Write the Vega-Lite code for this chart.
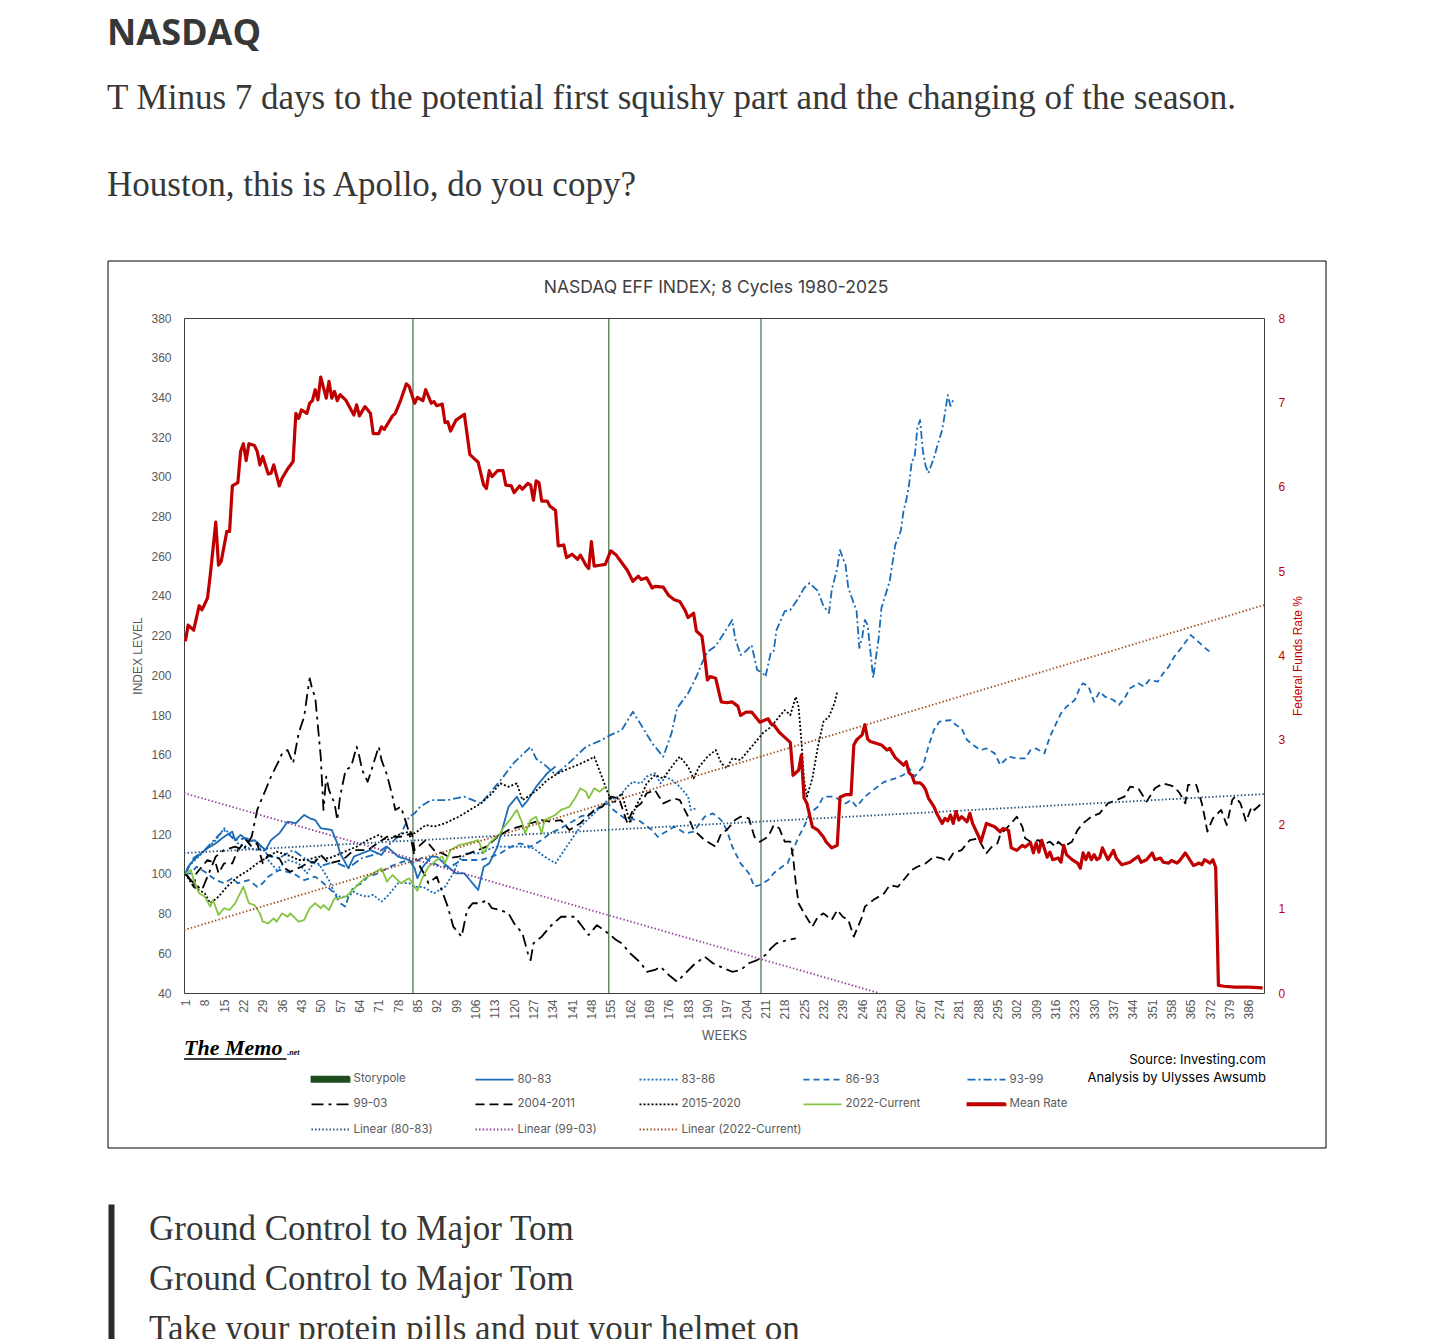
{
  "$schema": "https://vega.github.io/schema/vega-lite/v6.json",
  "padding": {"left": 107, "top": 15, "right": 20, "bottom": 0},
  "background": "white",
  "config": {"view": {"stroke": "#404040"}, "font": "Liberation Sans", "axis": {"labelOverlap": false}},
  "title": {
    "text": "NASDAQ",
    "subtitle": ["T Minus 7 days to the potential first squishy part and the changing of the season.", "Houston, this is Apollo, do you copy?"],
    "anchor": "start", "font": "Open Sans", "fontSize": 36, "fontWeight": "bold", "color": "#363737",
    "subtitleFont": "Liberation Serif", "subtitleFontSize": 35, "subtitleColor": "#363737",
    "subtitleLineHeight": 87, "subtitlePadding": 28, "offset": 56.5
  },
  "spacing": 55,
  "datasets": {
    "series": [
      {"series":"80-83","week":1,"value":100},{"series":"80-83","week":2,"value":103.6},{"series":"80-83","week":4,"value":107},{"series":"80-83","week":8,"value":112},{"series":"80-83","week":12,"value":115.4},{"series":"80-83","week":15,"value":118.7},{"series":"80-83","week":18,"value":121.3},{"series":"80-83","week":19,"value":117},{"series":"80-83","week":21,"value":119.6},{"series":"80-83","week":24,"value":116.2},{"series":"80-83","week":26,"value":117},{"series":"80-83","week":30,"value":112},{"series":"80-83","week":32,"value":117},{"series":"80-83","week":35,"value":120.4},{"series":"80-83","week":38,"value":126.3},{"series":"80-83","week":41,"value":125.5},{"series":"80-83","week":44,"value":129.7},{"series":"80-83","week":46,"value":128},{"series":"80-83","week":48,"value":127.1},{"series":"80-83","week":50,"value":123},{"series":"80-83","week":54,"value":122.1},{"series":"80-83","week":56,"value":115.4},{"series":"80-83","week":57,"value":110.4},{"series":"80-83","week":60,"value":102.8},{"series":"80-83","week":62,"value":108.7},{"series":"80-83","week":65,"value":110.4},{"series":"80-83","week":68,"value":112},{"series":"80-83","week":72,"value":109.5},{"series":"80-83","week":74,"value":113.7},{"series":"80-83","week":78,"value":108.7},{"series":"80-83","week":82,"value":107},{"series":"80-83","week":84,"value":102.8},{"series":"80-83","week":85,"value":97.8},{"series":"80-83","week":87,"value":103.6},{"series":"80-83","week":90,"value":108.7},{"series":"80-83","week":92,"value":108.7},{"series":"80-83","week":96,"value":103.6},{"series":"80-83","week":99,"value":100.3},{"series":"80-83","week":102,"value":100.3},{"series":"80-83","week":104,"value":96.9},{"series":"80-83","week":107,"value":91.9},{"series":"80-83","week":109,"value":103.6},{"series":"80-83","week":111,"value":105.3},{"series":"80-83","week":114,"value":113.7},{"series":"80-83","week":116,"value":123.8},{"series":"80-83","week":118,"value":133.8},{"series":"80-83","week":121,"value":138.9},{"series":"80-83","week":123,"value":133.8},{"series":"80-83","week":125,"value":137.2},{"series":"80-83","week":128,"value":143.9},{"series":"80-83","week":132,"value":150.7},{"series":"80-83","week":135,"value":154.1},

      {"series":"83-86","week":1,"value":100},{"series":"83-86","week":2,"value":103.6},{"series":"83-86","week":7,"value":110.4},{"series":"83-86","week":12,"value":117},{"series":"83-86","week":15,"value":123},{"series":"83-86","week":18,"value":118.7},{"series":"83-86","week":20,"value":115.4},{"series":"83-86","week":24,"value":112.9},{"series":"83-86","week":27,"value":112},{"series":"83-86","week":30,"value":112},{"series":"83-86","week":31,"value":107},{"series":"83-86","week":34,"value":102},{"series":"83-86","week":38,"value":107},{"series":"83-86","week":42,"value":105.3},{"series":"83-86","week":45,"value":100.3},{"series":"83-86","week":48,"value":107},{"series":"83-86","week":50,"value":103.6},{"series":"83-86","week":53,"value":96.9},{"series":"83-86","week":55,"value":90.2},{"series":"83-86","week":57,"value":88.5},{"series":"83-86","week":60,"value":88.5},{"series":"83-86","week":62,"value":91},{"series":"83-86","week":64,"value":89.4},{"series":"83-86","week":67,"value":88.5},{"series":"83-86","week":69,"value":89.4},{"series":"83-86","week":72,"value":86},{"series":"83-86","week":74,"value":88.5},{"series":"83-86","week":78,"value":95.3},{"series":"83-86","week":82,"value":95.3},{"series":"83-86","week":84,"value":93.5},{"series":"83-86","week":87,"value":93.5},{"series":"83-86","week":91,"value":90.2},{"series":"83-86","week":95,"value":93.5},{"series":"83-86","week":98,"value":100.3},{"series":"83-86","week":100,"value":107},{"series":"83-86","week":103,"value":110.4},{"series":"83-86","week":108,"value":110.4},{"series":"83-86","week":113,"value":113.7},{"series":"83-86","week":118,"value":113.7},{"series":"83-86","week":123,"value":113.7},{"series":"83-86","week":127,"value":112.9},{"series":"83-86","week":131,"value":108.7},{"series":"83-86","week":135,"value":105.3},{"series":"83-86","week":139,"value":113.7},{"series":"83-86","week":144,"value":123.8},{"series":"83-86","week":149,"value":130.5},{"series":"83-86","week":154,"value":137.2},{"series":"83-86","week":158,"value":138.9},{"series":"83-86","week":161,"value":143.9},{"series":"83-86","week":163,"value":146.4},{"series":"83-86","week":166,"value":145.6},{"series":"83-86","week":168,"value":149},{"series":"83-86","week":171,"value":150.7},{"series":"83-86","week":173,"value":145.6},{"series":"83-86","week":175,"value":149},{"series":"83-86","week":178,"value":146.4},{"series":"83-86","week":180,"value":143.9},{"series":"83-86","week":183,"value":138.9},{"series":"83-86","week":184,"value":132.2},{"series":"83-86","week":186,"value":133},

      {"series":"86-93","week":1,"value":100},{"series":"86-93","week":3,"value":100.3},{"series":"86-93","week":5,"value":103.6},{"series":"86-93","week":8,"value":101.1},{"series":"86-93","week":12,"value":96.9},{"series":"86-93","week":15,"value":95.3},{"series":"86-93","week":18,"value":97.8},{"series":"86-93","week":20,"value":95.3},{"series":"86-93","week":24,"value":96.9},{"series":"86-93","week":27,"value":93.5},{"series":"86-93","week":29,"value":95.3},{"series":"86-93","week":31,"value":98.6},{"series":"86-93","week":35,"value":102},{"series":"86-93","week":40,"value":100.3},{"series":"86-93","week":44,"value":96.9},{"series":"86-93","week":48,"value":98.6},{"series":"86-93","week":51,"value":95.3},{"series":"86-93","week":55,"value":90.2},{"series":"86-93","week":57,"value":85.2},{"series":"86-93","week":59,"value":83.5},{"series":"86-93","week":60,"value":88.5},{"series":"86-93","week":62,"value":93.5},{"series":"86-93","week":65,"value":95.3},{"series":"86-93","week":67,"value":98.6},{"series":"86-93","week":71,"value":100.3},{"series":"86-93","week":75,"value":103.6},{"series":"86-93","week":78,"value":105.3},{"series":"86-93","week":82,"value":107},{"series":"86-93","week":84,"value":105.3},{"series":"86-93","week":87,"value":108.7},{"series":"86-93","week":90,"value":106},{"series":"86-93","week":93,"value":104},{"series":"86-93","week":97,"value":103.6},{"series":"86-93","week":101,"value":107},{"series":"86-93","week":108,"value":107},{"series":"86-93","week":112,"value":108.7},{"series":"86-93","week":115,"value":110.4},{"series":"86-93","week":119,"value":113.7},{"series":"86-93","week":122,"value":115.4},{"series":"86-93","week":126,"value":113.7},{"series":"86-93","week":130,"value":117},{"series":"86-93","week":133,"value":120.4},{"series":"86-93","week":137,"value":123},{"series":"86-93","week":141,"value":126.3},{"series":"86-93","week":144,"value":128.8},{"series":"86-93","week":148,"value":130.5},{"series":"86-93","week":151,"value":133.8},{"series":"86-93","week":154,"value":135.5},{"series":"86-93","week":156,"value":132.2},{"series":"86-93","week":160,"value":128},{"series":"86-93","week":165,"value":127.1},{"series":"86-93","week":170,"value":122.1},{"series":"86-93","week":172,"value":118.7},{"series":"86-93","week":176,"value":122.1},{"series":"86-93","week":178,"value":123.8},{"series":"86-93","week":182,"value":120.4},{"series":"86-93","week":185,"value":121.3},{"series":"86-93","week":189,"value":128.8},{"series":"86-93","week":192,"value":130.5},{"series":"86-93","week":195,"value":127.1},{"series":"86-93","week":197,"value":122.1},{"series":"86-93","week":199,"value":113.7},{"series":"86-93","week":202,"value":105.3},{"series":"86-93","week":205,"value":100.3},{"series":"86-93","week":207,"value":93.5},{"series":"86-93","week":209,"value":94.4},{"series":"86-93","week":212,"value":96.9},{"series":"86-93","week":214,"value":100.3},{"series":"86-93","week":217,"value":103.6},{"series":"86-93","week":219,"value":105.3},{"series":"86-93","week":221,"value":112},{"series":"86-93","week":223,"value":118.7},{"series":"86-93","week":225,"value":123.8},{"series":"86-93","week":227,"value":130.5},{"series":"86-93","week":230,"value":133.8},{"series":"86-93","week":232,"value":138.9},{"series":"86-93","week":235,"value":138.9},{"series":"86-93","week":237,"value":138},{"series":"86-93","week":240,"value":135.5},{"series":"86-93","week":242,"value":137.2},{"series":"86-93","week":244,"value":133.8},{"series":"86-93","week":247,"value":138.9},{"series":"86-93","week":250,"value":142.2},{"series":"86-93","week":254,"value":146.4},{"series":"86-93","week":258,"value":148.1},{"series":"86-93","week":261,"value":149.8},{"series":"86-93","week":263,"value":153.2},{"series":"86-93","week":265,"value":149},{"series":"86-93","week":268,"value":154},{"series":"86-93","week":270,"value":164.1},{"series":"86-93","week":272,"value":172.5},{"series":"86-93","week":274,"value":176.7},{"series":"86-93","week":278,"value":177.5},{"series":"86-93","week":280,"value":175},{"series":"86-93","week":282,"value":173.3},{"series":"86-93","week":284,"value":167.4},{"series":"86-93","week":287,"value":164.1},{"series":"86-93","week":289,"value":162.4},{"series":"86-93","week":291,"value":163.2},{"series":"86-93","week":294,"value":160.7},{"series":"86-93","week":296,"value":154.9},{"series":"86-93","week":299,"value":159},{"series":"86-93","week":302,"value":158.2},{"series":"86-93","week":305,"value":158.2},{"series":"86-93","week":307,"value":162.4},{"series":"86-93","week":309,"value":163.2},{"series":"86-93","week":312,"value":160.7},{"series":"86-93","week":314,"value":169.1},{"series":"86-93","week":316,"value":175},{"series":"86-93","week":318,"value":180.9},{"series":"86-93","week":320,"value":184.2},{"series":"86-93","week":323,"value":187.6},{"series":"86-93","week":325,"value":194.3},{"series":"86-93","week":326,"value":196},{"series":"86-93","week":328,"value":194.3},{"series":"86-93","week":330,"value":186.7},{"series":"86-93","week":332,"value":191.8},{"series":"86-93","week":334,"value":189.2},{"series":"86-93","week":337,"value":187.6},{"series":"86-93","week":339,"value":185.1},{"series":"86-93","week":341,"value":188.4},{"series":"86-93","week":343,"value":193.5},{"series":"86-93","week":346,"value":196},{"series":"86-93","week":348,"value":194.3},{"series":"86-93","week":350,"value":197.7},{"series":"86-93","week":353,"value":196.8},{"series":"86-93","week":355,"value":201},{"series":"86-93","week":357,"value":204.4},{"series":"86-93","week":359,"value":209.4},{"series":"86-93","week":361,"value":212.8},{"series":"86-93","week":365,"value":220.3},{"series":"86-93","week":367,"value":217.8},{"series":"86-93","week":369,"value":215.3},{"series":"86-93","week":371,"value":212.8},{"series":"86-93","week":373,"value":211},

      {"series":"93-99","week":1,"value":100},{"series":"93-99","week":4,"value":108},{"series":"93-99","week":8,"value":112},{"series":"93-99","week":12,"value":118},{"series":"93-99","week":15,"value":122},{"series":"93-99","week":19,"value":117},{"series":"93-99","week":23,"value":118},{"series":"93-99","week":27,"value":116},{"series":"93-99","week":31,"value":109},{"series":"93-99","week":35,"value":108},{"series":"93-99","week":40,"value":112},{"series":"93-99","week":45,"value":107},{"series":"93-99","week":50,"value":104},{"series":"93-99","week":55,"value":106},{"series":"93-99","week":60,"value":103},{"series":"93-99","week":65,"value":108},{"series":"93-99","week":70,"value":110},{"series":"93-99","week":75,"value":115},{"series":"93-99","week":79,"value":120},{"series":"93-99","week":82,"value":128.8},{"series":"93-99","week":84,"value":130.5},{"series":"93-99","week":86,"value":133.8},{"series":"93-99","week":90,"value":137.2},{"series":"93-99","week":96,"value":137.2},{"series":"93-99","week":102,"value":138.9},{"series":"93-99","week":108,"value":135.5},{"series":"93-99","week":115,"value":147},{"series":"93-99","week":120,"value":156},{"series":"93-99","week":126,"value":164},{"series":"93-99","week":128,"value":158},{"series":"93-99","week":131,"value":155},{"series":"93-99","week":135,"value":150},{"series":"93-99","week":140,"value":156},{"series":"93-99","week":146,"value":164},{"series":"93-99","week":151,"value":167},{"series":"93-99","week":155,"value":170},{"series":"93-99","week":159,"value":172.5},{"series":"93-99","week":163,"value":181.7},{"series":"93-99","week":166,"value":175},{"series":"93-99","week":170,"value":165.8},{"series":"93-99","week":174,"value":159},{"series":"93-99","week":177,"value":170.8},{"series":"93-99","week":179,"value":183.4},{"series":"93-99","week":183,"value":191},{"series":"93-99","week":186,"value":199.3},{"series":"93-99","week":188,"value":206.1},{"series":"93-99","week":190,"value":211.9},{"series":"93-99","week":193,"value":214.8},{"series":"93-99","week":196,"value":221.3},{"series":"93-99","week":199,"value":227.9},{"series":"93-99","week":200,"value":218.8},{"series":"93-99","week":202,"value":210.3},{"series":"93-99","week":204,"value":212.3},{"series":"93-99","week":206,"value":215.3},{"series":"93-99","week":208,"value":202.7},{"series":"93-99","week":210,"value":201.2},{"series":"93-99","week":211,"value":199.2},{"series":"93-99","week":213,"value":211.8},{"series":"93-99","week":214,"value":212.3},{"series":"93-99","week":215,"value":222.8},{"series":"93-99","week":218,"value":232.4},{"series":"93-99","week":220,"value":232.9},{"series":"93-99","week":223,"value":239},{"series":"93-99","week":225,"value":244},{"series":"93-99","week":227,"value":246.5},{"series":"93-99","week":230,"value":242.5},{"series":"93-99","week":232,"value":234.9},{"series":"93-99","week":234,"value":231.4},{"series":"93-99","week":235,"value":243},{"series":"93-99","week":237,"value":254},{"series":"93-99","week":238,"value":263.1},{"series":"93-99","week":240,"value":255.6},{"series":"93-99","week":241,"value":244},{"series":"93-99","week":244,"value":232.4},{"series":"93-99","week":245,"value":213.8},{"series":"93-99","week":246,"value":218.8},{"series":"93-99","week":247,"value":227.9},{"series":"93-99","week":248,"value":225.4},{"series":"93-99","week":250,"value":198.7},{"series":"93-99","week":252,"value":218.8},{"series":"93-99","week":253,"value":233.9},{"series":"93-99","week":256,"value":247.5},{"series":"93-99","week":258,"value":265.7},{"series":"93-99","week":260,"value":272.7},{"series":"93-99","week":261,"value":282.8},{"series":"93-99","week":262,"value":288.3},{"series":"93-99","week":263,"value":296},{"series":"93-99","week":264,"value":308},{"series":"93-99","week":265,"value":309.5},{"series":"93-99","week":266,"value":324.6},{"series":"93-99","week":267,"value":328.6},{"series":"93-99","week":268,"value":313},{"series":"93-99","week":269,"value":305.4},{"series":"93-99","week":270,"value":301.9},{"series":"93-99","week":272,"value":309.5},{"series":"93-99","week":273,"value":314.5},{"series":"93-99","week":275,"value":323.6},{"series":"93-99","week":276,"value":332.1},{"series":"93-99","week":277,"value":341.2},{"series":"93-99","week":278,"value":335.7},{"series":"93-99","week":279,"value":338.7},

      {"series":"99-03","week":1,"value":100},{"series":"99-03","week":4,"value":95.3},{"series":"99-03","week":7,"value":91.9},{"series":"99-03","week":12,"value":108.7},{"series":"99-03","week":15,"value":112},{"series":"99-03","week":19,"value":113.7},{"series":"99-03","week":22,"value":112},{"series":"99-03","week":25,"value":118.7},{"series":"99-03","week":27,"value":132.2},{"series":"99-03","week":30,"value":142.2},{"series":"99-03","week":32,"value":149},{"series":"99-03","week":35,"value":157.4},{"series":"99-03","week":36,"value":160.7},{"series":"99-03","week":38,"value":162.4},{"series":"99-03","week":40,"value":155.7},{"series":"99-03","week":42,"value":170.8},{"series":"99-03","week":44,"value":179.2},{"series":"99-03","week":45,"value":189.2},{"series":"99-03","week":46,"value":198.5},{"series":"99-03","week":47,"value":192.6},{"series":"99-03","week":48,"value":189.2},{"series":"99-03","week":49,"value":174.1},{"series":"99-03","week":50,"value":159},{"series":"99-03","week":51,"value":132.2},{"series":"99-03","week":52,"value":149},{"series":"99-03","week":53,"value":142.2},{"series":"99-03","week":55,"value":135.5},{"series":"99-03","week":56,"value":127.1},{"series":"99-03","week":57,"value":138.9},{"series":"99-03","week":59,"value":152.3},{"series":"99-03","week":61,"value":154},{"series":"99-03","week":63,"value":164.1},{"series":"99-03","week":64,"value":159},{"series":"99-03","week":65,"value":152.3},{"series":"99-03","week":67,"value":146.4},{"series":"99-03","week":68,"value":150.7},{"series":"99-03","week":71,"value":164.1},{"series":"99-03","week":72,"value":157.4},{"series":"99-03","week":74,"value":149.8},{"series":"99-03","week":76,"value":138.9},{"series":"99-03","week":77,"value":132.2},{"series":"99-03","week":79,"value":133.8},{"series":"99-03","week":81,"value":125.5},{"series":"99-03","week":83,"value":115.4},{"series":"99-03","week":84,"value":108.7},{"series":"99-03","week":86,"value":103.6},{"series":"99-03","week":88,"value":98.6},{"series":"99-03","week":89,"value":95.3},{"series":"99-03","week":92,"value":98.6},{"series":"99-03","week":96,"value":83.5},{"series":"99-03","week":98,"value":73.4},{"series":"99-03","week":101,"value":68.4},{"series":"99-03","week":103,"value":81.8},{"series":"99-03","week":105,"value":85.2},{"series":"99-03","week":108,"value":85.2},{"series":"99-03","week":110,"value":86.8},{"series":"99-03","week":112,"value":82.7},{"series":"99-03","week":115,"value":81.8},{"series":"99-03","week":118,"value":80.1},{"series":"99-03","week":120,"value":75.1},{"series":"99-03","week":123,"value":70.1},{"series":"99-03","week":125,"value":60},{"series":"99-03","week":126,"value":56.6},{"series":"99-03","week":127,"value":65},{"series":"99-03","week":130,"value":68.4},{"series":"99-03","week":133,"value":73.4},{"series":"99-03","week":137,"value":78.4},{"series":"99-03","week":142,"value":78.4},{"series":"99-03","week":147,"value":69.2},{"series":"99-03","week":150,"value":74.2},{"series":"99-03","week":154,"value":70.1},{"series":"99-03","week":157,"value":66.7},{"series":"99-03","week":159,"value":65},{"series":"99-03","week":162,"value":60},{"series":"99-03","week":166,"value":55},{"series":"99-03","week":168,"value":50.7},{"series":"99-03","week":171,"value":51.6},{"series":"99-03","week":173,"value":53.2},{"series":"99-03","week":176,"value":49.1},{"series":"99-03","week":179,"value":45.7},{"series":"99-03","week":182,"value":49.9},{"series":"99-03","week":185,"value":54.1},{"series":"99-03","week":189,"value":58.3},{"series":"99-03","week":192,"value":55},{"series":"99-03","week":196,"value":52.4},{"series":"99-03","week":199,"value":50.7},{"series":"99-03","week":202,"value":51.6},{"series":"99-03","week":205,"value":55},{"series":"99-03","week":208,"value":56.6},{"series":"99-03","week":211,"value":59.1},{"series":"99-03","week":213,"value":62.5},{"series":"99-03","week":215,"value":65},{"series":"99-03","week":219,"value":66.7},{"series":"99-03","week":222,"value":67.5},

      {"series":"2004-2011","week":1,"value":100},{"series":"2004-2011","week":2,"value":98.6},{"series":"2004-2011","week":4,"value":93.5},{"series":"2004-2011","week":5,"value":100.3},{"series":"2004-2011","week":9,"value":107},{"series":"2004-2011","week":12,"value":105.3},{"series":"2004-2011","week":13,"value":100.3},{"series":"2004-2011","week":15,"value":105.3},{"series":"2004-2011","week":18,"value":105.3},{"series":"2004-2011","week":20,"value":112},{"series":"2004-2011","week":23,"value":117},{"series":"2004-2011","week":25,"value":113.7},{"series":"2004-2011","week":27,"value":115.4},{"series":"2004-2011","week":29,"value":105.3},{"series":"2004-2011","week":31,"value":109.5},{"series":"2004-2011","week":35,"value":107.8},{"series":"2004-2011","week":37,"value":102.8},{"series":"2004-2011","week":39,"value":101.1},{"series":"2004-2011","week":43,"value":103.6},{"series":"2004-2011","week":45,"value":105.3},{"series":"2004-2011","week":48,"value":106.1},{"series":"2004-2011","week":50,"value":109.5},{"series":"2004-2011","week":53,"value":105.3},{"series":"2004-2011","week":58,"value":107},{"series":"2004-2011","week":62,"value":112},{"series":"2004-2011","week":67,"value":112},{"series":"2004-2011","week":74,"value":118.7},{"series":"2004-2011","week":79,"value":118.7},{"series":"2004-2011","week":83,"value":120.4},{"series":"2004-2011","week":84,"value":112},{"series":"2004-2011","week":88,"value":117},{"series":"2004-2011","week":91,"value":112},{"series":"2004-2011","week":94,"value":110.4},{"series":"2004-2011","week":97,"value":108},{"series":"2004-2011","week":100,"value":108.7},{"series":"2004-2011","week":103,"value":110},{"series":"2004-2011","week":107,"value":112},{"series":"2004-2011","week":110,"value":113.7},{"series":"2004-2011","week":114,"value":118.7},{"series":"2004-2011","week":118,"value":122.1},{"series":"2004-2011","week":122,"value":123.8},{"series":"2004-2011","week":126,"value":125.5},{"series":"2004-2011","week":130,"value":127.1},{"series":"2004-2011","week":133,"value":126.3},{"series":"2004-2011","week":137,"value":127.1},{"series":"2004-2011","week":140,"value":122.1},{"series":"2004-2011","week":144,"value":125.5},{"series":"2004-2011","week":149,"value":132.2},{"series":"2004-2011","week":152,"value":133.8},{"series":"2004-2011","week":155,"value":138.9},{"series":"2004-2011","week":158,"value":138},{"series":"2004-2011","week":161,"value":125.5},{"series":"2004-2011","week":163,"value":132.2},{"series":"2004-2011","week":166,"value":135.5},{"series":"2004-2011","week":168,"value":140.6},{"series":"2004-2011","week":171,"value":142.2},{"series":"2004-2011","week":174,"value":135.5},{"series":"2004-2011","week":178,"value":138},{"series":"2004-2011","week":180,"value":137.2},{"series":"2004-2011","week":183,"value":128.8},{"series":"2004-2011","week":185,"value":122.1},{"series":"2004-2011","week":189,"value":117},{"series":"2004-2011","week":193,"value":113.7},{"series":"2004-2011","week":195,"value":120.4},{"series":"2004-2011","week":197,"value":122.1},{"series":"2004-2011","week":200,"value":127.1},{"series":"2004-2011","week":202,"value":128.8},{"series":"2004-2011","week":205,"value":128},{"series":"2004-2011","week":207,"value":118.7},{"series":"2004-2011","week":209,"value":116.2},{"series":"2004-2011","week":212,"value":118.7},{"series":"2004-2011","week":214,"value":124.6},{"series":"2004-2011","week":216,"value":123},{"series":"2004-2011","week":218,"value":116.2},{"series":"2004-2011","week":220,"value":116.2},{"series":"2004-2011","week":221,"value":108.7},{"series":"2004-2011","week":222,"value":95.3},{"series":"2004-2011","week":223,"value":85.2},{"series":"2004-2011","week":225,"value":80.1},{"series":"2004-2011","week":228,"value":73.4},{"series":"2004-2011","week":230,"value":78.4},{"series":"2004-2011","week":232,"value":80.1},{"series":"2004-2011","week":235,"value":76.8},{"series":"2004-2011","week":237,"value":81.8},{"series":"2004-2011","week":239,"value":78.4},{"series":"2004-2011","week":241,"value":76.8},{"series":"2004-2011","week":243,"value":68.4},{"series":"2004-2011","week":246,"value":78.4},{"series":"2004-2011","week":247,"value":83.5},{"series":"2004-2011","week":250,"value":86.8},{"series":"2004-2011","week":254,"value":90.2},{"series":"2004-2011","week":256,"value":94.4},{"series":"2004-2011","week":259,"value":93.5},{"series":"2004-2011","week":261,"value":96.9},{"series":"2004-2011","week":264,"value":102},{"series":"2004-2011","week":266,"value":103.6},{"series":"2004-2011","week":269,"value":105.3},{"series":"2004-2011","week":272,"value":108.7},{"series":"2004-2011","week":275,"value":107.8},{"series":"2004-2011","week":277,"value":106.1},{"series":"2004-2011","week":279,"value":110.4},{"series":"2004-2011","week":282,"value":112},{"series":"2004-2011","week":285,"value":117},{"series":"2004-2011","week":288,"value":117.9},{"series":"2004-2011","week":291,"value":110.4},{"series":"2004-2011","week":293,"value":113.7},{"series":"2004-2011","week":295,"value":115.4},{"series":"2004-2011","week":296,"value":119.6},{"series":"2004-2011","week":300,"value":125.5},{"series":"2004-2011","week":302,"value":128.8},{"series":"2004-2011","week":304,"value":123.8},{"series":"2004-2011","week":305,"value":117.9},{"series":"2004-2011","week":307,"value":116.2},{"series":"2004-2011","week":310,"value":117},{"series":"2004-2011","week":311,"value":114.5},{"series":"2004-2011","week":314,"value":116.2},{"series":"2004-2011","week":316,"value":113.7},{"series":"2004-2011","week":317,"value":116.2},{"series":"2004-2011","week":319,"value":113.7},{"series":"2004-2011","week":322,"value":116.2},{"series":"2004-2011","week":324,"value":122.1},{"series":"2004-2011","week":326,"value":125.5},{"series":"2004-2011","week":329,"value":128.8},{"series":"2004-2011","week":332,"value":130.5},{"series":"2004-2011","week":335,"value":135.5},{"series":"2004-2011","week":338,"value":137.2},{"series":"2004-2011","week":341,"value":138.9},{"series":"2004-2011","week":343,"value":143.9},{"series":"2004-2011","week":346,"value":143.1},{"series":"2004-2011","week":349,"value":136.4},{"series":"2004-2011","week":352,"value":143.1},{"series":"2004-2011","week":355,"value":145.6},{"series":"2004-2011","week":357,"value":144.8},{"series":"2004-2011","week":359,"value":143.9},{"series":"2004-2011","week":361,"value":140.6},{"series":"2004-2011","week":363,"value":135.5},{"series":"2004-2011","week":364,"value":144.8},{"series":"2004-2011","week":367,"value":144.8},{"series":"2004-2011","week":369,"value":135.5},{"series":"2004-2011","week":370,"value":128.8},{"series":"2004-2011","week":371,"value":121.3},{"series":"2004-2011","week":373,"value":128},{"series":"2004-2011","week":376,"value":132.2},{"series":"2004-2011","week":378,"value":124.6},{"series":"2004-2011","week":380,"value":137.2},{"series":"2004-2011","week":381,"value":138.9},{"series":"2004-2011","week":383,"value":135.5},{"series":"2004-2011","week":385,"value":126.3},{"series":"2004-2011","week":387,"value":133.8},{"series":"2004-2011","week":388,"value":132.2},{"series":"2004-2011","week":390,"value":134.7},{"series":"2004-2011","week":391,"value":136.4},

      {"series":"2015-2020","week":1,"value":100},{"series":"2015-2020","week":4,"value":93.5},{"series":"2015-2020","week":8,"value":90.2},{"series":"2015-2020","week":10,"value":85.2},{"series":"2015-2020","week":13,"value":88.5},{"series":"2015-2020","week":16,"value":93.5},{"series":"2015-2020","week":20,"value":98.6},{"series":"2015-2020","week":24,"value":102},{"series":"2015-2020","week":27,"value":105.3},{"series":"2015-2020","week":31,"value":108.7},{"series":"2015-2020","week":34,"value":111.2},{"series":"2015-2020","week":38,"value":109.5},{"series":"2015-2020","week":42,"value":107},{"series":"2015-2020","week":45,"value":107},{"series":"2015-2020","week":49,"value":108.7},{"series":"2015-2020","week":53,"value":107.8},{"series":"2015-2020","week":56,"value":109.5},{"series":"2015-2020","week":60,"value":112},{"series":"2015-2020","week":63,"value":113.7},{"series":"2015-2020","week":67,"value":117},{"series":"2015-2020","week":71,"value":119.6},{"series":"2015-2020","week":74,"value":117},{"series":"2015-2020","week":78,"value":119.6},{"series":"2015-2020","week":82,"value":121.3},{"series":"2015-2020","week":84,"value":120.4},{"series":"2015-2020","week":88,"value":124.6},{"series":"2015-2020","week":91,"value":123.8},{"series":"2015-2020","week":95,"value":125.5},{"series":"2015-2020","week":100,"value":128.8},{"series":"2015-2020","week":104,"value":132.2},{"series":"2015-2020","week":108,"value":135.5},{"series":"2015-2020","week":112,"value":140.6},{"series":"2015-2020","week":115,"value":145.6},{"series":"2015-2020","week":118,"value":143.9},{"series":"2015-2020","week":121,"value":145.6},{"series":"2015-2020","week":123,"value":137.2},{"series":"2015-2020","week":126,"value":139.8},{"series":"2015-2020","week":129,"value":143.1},{"series":"2015-2020","week":132,"value":147.3},{"series":"2015-2020","week":136,"value":150.7},{"series":"2015-2020","week":140,"value":153.2},{"series":"2015-2020","week":143,"value":154.9},{"series":"2015-2020","week":147,"value":157.4},{"series":"2015-2020","week":149,"value":159},{"series":"2015-2020","week":152,"value":148.1},{"series":"2015-2020","week":154,"value":140.6},{"series":"2015-2020","week":156,"value":135.5},{"series":"2015-2020","week":159,"value":140.6},{"series":"2015-2020","week":162,"value":125.5},{"series":"2015-2020","week":164,"value":133.8},{"series":"2015-2020","week":166,"value":138.9},{"series":"2015-2020","week":168,"value":145.6},{"series":"2015-2020","week":171,"value":149.8},{"series":"2015-2020","week":174,"value":148.1},{"series":"2015-2020","week":178,"value":155.7},{"series":"2015-2020","week":180,"value":159},{"series":"2015-2020","week":183,"value":154},{"series":"2015-2020","week":185,"value":148.1},{"series":"2015-2020","week":187,"value":154},{"series":"2015-2020","week":190,"value":159},{"series":"2015-2020","week":193,"value":162.4},{"series":"2015-2020","week":195,"value":155.7},{"series":"2015-2020","week":197,"value":153.2},{"series":"2015-2020","week":199,"value":158.2},{"series":"2015-2020","week":202,"value":157.4},{"series":"2015-2020","week":205,"value":162.4},{"series":"2015-2020","week":208,"value":167.4},{"series":"2015-2020","week":210,"value":170.8},{"series":"2015-2020","week":213,"value":174.1},{"series":"2015-2020","week":216,"value":179.2},{"series":"2015-2020","week":218,"value":182.5},{"series":"2015-2020","week":220,"value":180},{"series":"2015-2020","week":222,"value":189.2},{"series":"2015-2020","week":223,"value":184.2},{"series":"2015-2020","week":224,"value":167.4},{"series":"2015-2020","week":225,"value":147.3},{"series":"2015-2020","week":226,"value":138.9},{"series":"2015-2020","week":228,"value":148.1},{"series":"2015-2020","week":230,"value":164.1},{"series":"2015-2020","week":232,"value":176.7},{"series":"2015-2020","week":234,"value":179.2},{"series":"2015-2020","week":236,"value":185.9},{"series":"2015-2020","week":237,"value":191.8},

      {"series":"2022-Current","week":1,"value":100},{"series":"2022-Current","week":3,"value":102},{"series":"2022-Current","week":4,"value":96.9},{"series":"2022-Current","week":6,"value":90.2},{"series":"2022-Current","week":8,"value":88.5},{"series":"2022-Current","week":10,"value":83.5},{"series":"2022-Current","week":11,"value":86.8},{"series":"2022-Current","week":13,"value":79.3},{"series":"2022-Current","week":15,"value":82.7},{"series":"2022-Current","week":17,"value":81.8},{"series":"2022-Current","week":19,"value":85.2},{"series":"2022-Current","week":22,"value":93.5},{"series":"2022-Current","week":24,"value":85.2},{"series":"2022-Current","week":26,"value":84.3},{"series":"2022-Current","week":28,"value":80.1},{"series":"2022-Current","week":29,"value":75.9},{"series":"2022-Current","week":31,"value":75.1},{"series":"2022-Current","week":33,"value":77.6},{"series":"2022-Current","week":34,"value":75.9},{"series":"2022-Current","week":36,"value":80.1},{"series":"2022-Current","week":38,"value":78.4},{"series":"2022-Current","week":39,"value":80.1},{"series":"2022-Current","week":42,"value":75.9},{"series":"2022-Current","week":44,"value":76.8},{"series":"2022-Current","week":46,"value":82.7},{"series":"2022-Current","week":48,"value":85.2},{"series":"2022-Current","week":50,"value":82.7},{"series":"2022-Current","week":51,"value":84.3},{"series":"2022-Current","week":53,"value":81.8},{"series":"2022-Current","week":55,"value":87.7},{"series":"2022-Current","week":57,"value":87.7},{"series":"2022-Current","week":59,"value":88.5},{"series":"2022-Current","week":61,"value":91},{"series":"2022-Current","week":64,"value":95.3},{"series":"2022-Current","week":66,"value":97.8},{"series":"2022-Current","week":68,"value":99.4},{"series":"2022-Current","week":71,"value":102},{"series":"2022-Current","week":72,"value":102.8},{"series":"2022-Current","week":74,"value":96.1},{"series":"2022-Current","week":76,"value":99.4},{"series":"2022-Current","week":79,"value":95.3},{"series":"2022-Current","week":82,"value":97.8},{"series":"2022-Current","week":84,"value":93.5},{"series":"2022-Current","week":85,"value":91.5},{"series":"2022-Current","week":87,"value":98.6},{"series":"2022-Current","week":89,"value":103.6},{"series":"2022-Current","week":92,"value":107},{"series":"2022-Current","week":94,"value":108.7},{"series":"2022-Current","week":95,"value":105.3},{"series":"2022-Current","week":97,"value":112},{"series":"2022-Current","week":100,"value":114.5},{"series":"2022-Current","week":103,"value":115.4},{"series":"2022-Current","week":107,"value":117},{"series":"2022-Current","week":109,"value":110.4},{"series":"2022-Current","week":111,"value":115.4},{"series":"2022-Current","week":115,"value":120.4},{"series":"2022-Current","week":116,"value":123},{"series":"2022-Current","week":118,"value":126.3},{"series":"2022-Current","week":121,"value":132.2},{"series":"2022-Current","week":123,"value":125.5},{"series":"2022-Current","week":124,"value":120.4},{"series":"2022-Current","week":126,"value":127.1},{"series":"2022-Current","week":128,"value":128.8},{"series":"2022-Current","week":130,"value":120.4},{"series":"2022-Current","week":131,"value":127.1},{"series":"2022-Current","week":135,"value":129.7},{"series":"2022-Current","week":137,"value":132.2},{"series":"2022-Current","week":140,"value":133.8},{"series":"2022-Current","week":142,"value":138},{"series":"2022-Current","week":144,"value":143.1},{"series":"2022-Current","week":146,"value":141.4},{"series":"2022-Current","week":147,"value":138},{"series":"2022-Current","week":149,"value":143.1},{"series":"2022-Current","week":151,"value":141.4},{"series":"2022-Current","week":153,"value":143.9},

      {"series":"Linear (80-83)","week":0.5,"value":110.5},{"series":"Linear (80-83)","week":391.5,"value":140.2},
      {"series":"Linear (99-03)","week":0.5,"value":140.7},{"series":"Linear (99-03)","week":252.1,"value":40},
      {"series":"Linear (2022-Current)","week":0.5,"value":71.7},{"series":"Linear (2022-Current)","week":391.5,"value":235.4}
    ],
    "poles": [
      {"series":"Storypole","week":83.4},{"series":"Storypole","week":154.3},{"series":"Storypole","week":209.4}
    ],
    "rate": [
      {"series":"Mean Rate","week":1,"rate":4.17},{"series":"Mean Rate","week":2,"rate":4.36},{"series":"Mean Rate","week":4,"rate":4.30},{"series":"Mean Rate","week":6,"rate":4.59},{"series":"Mean Rate","week":7,"rate":4.54},{"series":"Mean Rate","week":9,"rate":4.68},{"series":"Mean Rate","week":10,"rate":4.95},{"series":"Mean Rate","week":12,"rate":5.58},{"series":"Mean Rate","week":13,"rate":5.07},{"series":"Mean Rate","week":14,"rate":5.12},{"series":"Mean Rate","week":16,"rate":5.47},{"series":"Mean Rate","week":17,"rate":5.47},{"series":"Mean Rate","week":18,"rate":6.01},{"series":"Mean Rate","week":20,"rate":6.05},{"series":"Mean Rate","week":21,"rate":6.42},{"series":"Mean Rate","week":22,"rate":6.51},{"series":"Mean Rate","week":23,"rate":6.31},{"series":"Mean Rate","week":24,"rate":6.51},{"series":"Mean Rate","week":26,"rate":6.49},{"series":"Mean Rate","week":27,"rate":6.42},{"series":"Mean Rate","week":28,"rate":6.26},{"series":"Mean Rate","week":29,"rate":6.36},{"series":"Mean Rate","week":31,"rate":6.15},{"series":"Mean Rate","week":32,"rate":6.16},{"series":"Mean Rate","week":33,"rate":6.26},{"series":"Mean Rate","week":35,"rate":6.01},{"series":"Mean Rate","week":36,"rate":6.10},{"series":"Mean Rate","week":38,"rate":6.21},{"series":"Mean Rate","week":40,"rate":6.30},{"series":"Mean Rate","week":41,"rate":6.87},{"series":"Mean Rate","week":42,"rate":6.81},{"series":"Mean Rate","week":43,"rate":6.91},{"series":"Mean Rate","week":45,"rate":6.87},{"series":"Mean Rate","week":46,"rate":6.99},{"series":"Mean Rate","week":47,"rate":7.02},{"series":"Mean Rate","week":48,"rate":7.15},{"series":"Mean Rate","week":49,"rate":7.03},{"series":"Mean Rate","week":50,"rate":7.30},{"series":"Mean Rate","week":52,"rate":7.05},{"series":"Mean Rate","week":53,"rate":7.25},{"series":"Mean Rate","week":54,"rate":7.05},{"series":"Mean Rate","week":55,"rate":7.13},{"series":"Mean Rate","week":56,"rate":7.02},{"series":"Mean Rate","week":57,"rate":7.09},{"series":"Mean Rate","week":59,"rate":7.03},{"series":"Mean Rate","week":62,"rate":6.85},{"series":"Mean Rate","week":63,"rate":6.97},{"series":"Mean Rate","week":64,"rate":6.84},{"series":"Mean Rate","week":66,"rate":6.95},{"series":"Mean Rate","week":68,"rate":6.87},{"series":"Mean Rate","week":69,"rate":6.63},{"series":"Mean Rate","week":71,"rate":6.63},{"series":"Mean Rate","week":72,"rate":6.71},{"series":"Mean Rate","week":73,"rate":6.68},{"series":"Mean Rate","week":76,"rate":6.84},{"series":"Mean Rate","week":77,"rate":6.87},{"series":"Mean Rate","week":79,"rate":7.03},{"series":"Mean Rate","week":81,"rate":7.22},{"series":"Mean Rate","week":82,"rate":7.19},{"series":"Mean Rate","week":84,"rate":6.99},{"series":"Mean Rate","week":85,"rate":7.06},{"series":"Mean Rate","week":87,"rate":7.02},{"series":"Mean Rate","week":88,"rate":7.15},{"series":"Mean Rate","week":90,"rate":6.99},{"series":"Mean Rate","week":91,"rate":7.01},{"series":"Mean Rate","week":92,"rate":6.96},{"series":"Mean Rate","week":94,"rate":6.98},{"series":"Mean Rate","week":95,"rate":6.76},{"series":"Mean Rate","week":96,"rate":6.77},{"series":"Mean Rate","week":97,"rate":6.66},{"series":"Mean Rate","week":99,"rate":6.79},{"series":"Mean Rate","week":102,"rate":6.86},{"series":"Mean Rate","week":104,"rate":6.38},{"series":"Mean Rate","week":107,"rate":6.29},{"series":"Mean Rate","week":109,"rate":6.02},{"series":"Mean Rate","week":110,"rate":5.98},{"series":"Mean Rate","week":111,"rate":6.19},{"series":"Mean Rate","week":112,"rate":6.12},{"series":"Mean Rate","week":114,"rate":6.19},{"series":"Mean Rate","week":116,"rate":6.19},{"series":"Mean Rate","week":117,"rate":6.02},{"series":"Mean Rate","week":119,"rate":6.01},{"series":"Mean Rate","week":120,"rate":5.93},{"series":"Mean Rate","week":122,"rate":6.01},{"series":"Mean Rate","week":123,"rate":5.97},{"series":"Mean Rate","week":125,"rate":6.04},{"series":"Mean Rate","week":126,"rate":6.02},{"series":"Mean Rate","week":127,"rate":5.84},{"series":"Mean Rate","week":128,"rate":6.07},{"series":"Mean Rate","week":129,"rate":6.05},{"series":"Mean Rate","week":130,"rate":5.83},{"series":"Mean Rate","week":132,"rate":5.83},{"series":"Mean Rate","week":133,"rate":5.77},{"series":"Mean Rate","week":135,"rate":5.72},{"series":"Mean Rate","week":136,"rate":5.30},{"series":"Mean Rate","week":138,"rate":5.31},{"series":"Mean Rate","week":139,"rate":5.16},{"series":"Mean Rate","week":141,"rate":5.20},{"series":"Mean Rate","week":143,"rate":5.14},{"series":"Mean Rate","week":144,"rate":5.19},{"series":"Mean Rate","week":146,"rate":5.07},{"series":"Mean Rate","week":147,"rate":5.03},{"series":"Mean Rate","week":148,"rate":5.35},{"series":"Mean Rate","week":149,"rate":5.06},{"series":"Mean Rate","week":151,"rate":5.07},{"series":"Mean Rate","week":153,"rate":5.08},{"series":"Mean Rate","week":155,"rate":5.24},{"series":"Mean Rate","week":157,"rate":5.19},{"series":"Mean Rate","week":159,"rate":5.10},{"series":"Mean Rate","week":161,"rate":5.01},{"series":"Mean Rate","week":163,"rate":4.88},{"series":"Mean Rate","week":165,"rate":4.94},{"series":"Mean Rate","week":166,"rate":4.90},{"series":"Mean Rate","week":168,"rate":4.92},{"series":"Mean Rate","week":170,"rate":4.80},{"series":"Mean Rate","week":171,"rate":4.82},{"series":"Mean Rate","week":174,"rate":4.81},{"series":"Mean Rate","week":176,"rate":4.71},{"series":"Mean Rate","week":178,"rate":4.66},{"series":"Mean Rate","week":180,"rate":4.64},{"series":"Mean Rate","week":182,"rate":4.53},{"series":"Mean Rate","week":183,"rate":4.45},{"series":"Mean Rate","week":185,"rate":4.50},{"series":"Mean Rate","week":186,"rate":4.29},{"series":"Mean Rate","week":188,"rate":4.23},{"series":"Mean Rate","week":189,"rate":3.99},{"series":"Mean Rate","week":190,"rate":3.71},{"series":"Mean Rate","week":191,"rate":3.75},{"series":"Mean Rate","week":193,"rate":3.73},{"series":"Mean Rate","week":195,"rate":3.45},{"series":"Mean Rate","week":197,"rate":3.44},{"series":"Mean Rate","week":199,"rate":3.45},{"series":"Mean Rate","week":201,"rate":3.40},{"series":"Mean Rate","week":202,"rate":3.29},{"series":"Mean Rate","week":204,"rate":3.33},{"series":"Mean Rate","week":206,"rate":3.33},{"series":"Mean Rate","week":209,"rate":3.21},{"series":"Mean Rate","week":212,"rate":3.25},{"series":"Mean Rate","week":213,"rate":3.19},{"series":"Mean Rate","week":214,"rate":3.18},{"series":"Mean Rate","week":216,"rate":3.09},{"series":"Mean Rate","week":218,"rate":3.03},{"series":"Mean Rate","week":220,"rate":2.97},{"series":"Mean Rate","week":221,"rate":2.58},{"series":"Mean Rate","week":223,"rate":2.64},{"series":"Mean Rate","week":224,"rate":2.82},{"series":"Mean Rate","week":225,"rate":2.31},{"series":"Mean Rate","week":226,"rate":2.25},{"series":"Mean Rate","week":228,"rate":1.97},{"series":"Mean Rate","week":230,"rate":1.93},{"series":"Mean Rate","week":232,"rate":1.85},{"series":"Mean Rate","week":233,"rate":1.79},{"series":"Mean Rate","week":235,"rate":1.72},{"series":"Mean Rate","week":237,"rate":1.75},{"series":"Mean Rate","week":238,"rate":2.32},{"series":"Mean Rate","week":240,"rate":2.35},{"series":"Mean Rate","week":242,"rate":2.35},{"series":"Mean Rate","week":243,"rate":2.94},{"series":"Mean Rate","week":244,"rate":3.00},{"series":"Mean Rate","week":246,"rate":3.06},{"series":"Mean Rate","week":247,"rate":3.18},{"series":"Mean Rate","week":248,"rate":3.01},{"series":"Mean Rate","week":249,"rate":2.98},{"series":"Mean Rate","week":251,"rate":2.96},{"series":"Mean Rate","week":253,"rate":2.94},{"series":"Mean Rate","week":255,"rate":2.88},{"series":"Mean Rate","week":256,"rate":2.90},{"series":"Mean Rate","week":258,"rate":2.79},{"series":"Mean Rate","week":259,"rate":2.76},{"series":"Mean Rate","week":261,"rate":2.70},{"series":"Mean Rate","week":262,"rate":2.74},{"series":"Mean Rate","week":263,"rate":2.61},{"series":"Mean Rate","week":264,"rate":2.58},{"series":"Mean Rate","week":265,"rate":2.49},{"series":"Mean Rate","week":267,"rate":2.49},{"series":"Mean Rate","week":268,"rate":2.46},{"series":"Mean Rate","week":269,"rate":2.41},{"series":"Mean Rate","week":270,"rate":2.31},{"series":"Mean Rate","week":272,"rate":2.21},{"series":"Mean Rate","week":273,"rate":2.13},{"series":"Mean Rate","week":275,"rate":2.01},{"series":"Mean Rate","week":276,"rate":2.07},{"series":"Mean Rate","week":277,"rate":2.04},{"series":"Mean Rate","week":278,"rate":2.11},{"series":"Mean Rate","week":279,"rate":2.01},{"series":"Mean Rate","week":280,"rate":2.15},{"series":"Mean Rate","week":281,"rate":2.05},{"series":"Mean Rate","week":282,"rate":2.09},{"series":"Mean Rate","week":284,"rate":2.03},{"series":"Mean Rate","week":285,"rate":2.13},{"series":"Mean Rate","week":286,"rate":2.01},{"series":"Mean Rate","week":288,"rate":1.87},{"series":"Mean Rate","week":289,"rate":1.79},{"series":"Mean Rate","week":291,"rate":2.01},{"series":"Mean Rate","week":294,"rate":1.97},{"series":"Mean Rate","week":296,"rate":1.91},{"series":"Mean Rate","week":297,"rate":1.95},{"series":"Mean Rate","week":299,"rate":1.93},{"series":"Mean Rate","week":300,"rate":1.72},{"series":"Mean Rate","week":302,"rate":1.69},{"series":"Mean Rate","week":304,"rate":1.75},{"series":"Mean Rate","week":305,"rate":1.73},{"series":"Mean Rate","week":307,"rate":1.78},{"series":"Mean Rate","week":308,"rate":1.66},{"series":"Mean Rate","week":309,"rate":1.78},{"series":"Mean Rate","week":310,"rate":1.67},{"series":"Mean Rate","week":311,"rate":1.81},{"series":"Mean Rate","week":313,"rate":1.61},{"series":"Mean Rate","week":314,"rate":1.67},{"series":"Mean Rate","week":315,"rate":1.58},{"series":"Mean Rate","week":317,"rate":1.60},{"series":"Mean Rate","week":318,"rate":1.55},{"series":"Mean Rate","week":319,"rate":1.75},{"series":"Mean Rate","week":320,"rate":1.64},{"series":"Mean Rate","week":322,"rate":1.58},{"series":"Mean Rate","week":324,"rate":1.54},{"series":"Mean Rate","week":325,"rate":1.48},{"series":"Mean Rate","week":326,"rate":1.66},{"series":"Mean Rate","week":327,"rate":1.58},{"series":"Mean Rate","week":328,"rate":1.66},{"series":"Mean Rate","week":329,"rate":1.58},{"series":"Mean Rate","week":330,"rate":1.64},{"series":"Mean Rate","week":331,"rate":1.58},{"series":"Mean Rate","week":332,"rate":1.60},{"series":"Mean Rate","week":333,"rate":1.72},{"series":"Mean Rate","week":335,"rate":1.58},{"series":"Mean Rate","week":337,"rate":1.69},{"series":"Mean Rate","week":338,"rate":1.60},{"series":"Mean Rate","week":340,"rate":1.52},{"series":"Mean Rate","week":343,"rate":1.55},{"series":"Mean Rate","week":346,"rate":1.62},{"series":"Mean Rate","week":347,"rate":1.55},{"series":"Mean Rate","week":349,"rate":1.58},{"series":"Mean Rate","week":351,"rate":1.66},{"series":"Mean Rate","week":352,"rate":1.58},{"series":"Mean Rate","week":354,"rate":1.60},{"series":"Mean Rate","week":355,"rate":1.55},{"series":"Mean Rate","week":357,"rate":1.54},{"series":"Mean Rate","week":358,"rate":1.57},{"series":"Mean Rate","week":360,"rate":1.54},{"series":"Mean Rate","week":361,"rate":1.57},{"series":"Mean Rate","week":363,"rate":1.66},{"series":"Mean Rate","week":366,"rate":1.51},{"series":"Mean Rate","week":368,"rate":1.54},{"series":"Mean Rate","week":369,"rate":1.52},{"series":"Mean Rate","week":370,"rate":1.58},{"series":"Mean Rate","week":372,"rate":1.54},{"series":"Mean Rate","week":373,"rate":1.58},{"series":"Mean Rate","week":374,"rate":1.49},{"series":"Mean Rate","week":375,"rate":0.09},{"series":"Mean Rate","week":377,"rate":0.08},{"series":"Mean Rate","week":381,"rate":0.07},{"series":"Mean Rate","week":386,"rate":0.07},{"series":"Mean Rate","week":391,"rate":0.06}
    ],
    "quote": [
      {"n":1,"line":"Ground Control to Major Tom"},
      {"n":2,"line":"Ground Control to Major Tom"},
      {"n":3,"line":"Take your protein pills and put your helmet on"}
    ]
  },
  "vconcat": [
    {
      "width": 1080,
      "height": 675,
      "title": {"text": "NASDAQ EFF INDEX; 8 Cycles 1980-2025", "font": "Inter", "fontSize": 17.5, "fontWeight": "normal", "color": "#404040", "offset": -36, "dx": -8},
      "resolve": {"scale": {"y": "independent"}},
      "layer": [
        {
          "layer": [
            {
              "data": {"values": [{}]},
              "mark": {"type": "rect", "filled": false, "color": "#000000", "strokeWidth": 1},
              "encoding": {
                "x": {"datum": -27.0, "type": "quantitative",
                  "axis": {"title": "WEEKS", "values": [1,8,15,22,29,36,43,50,57,64,71,78,85,92,99,106,113,120,127,134,141,148,155,162,169,176,183,190,197,204,211,218,225,232,239,246,253,260,267,274,281,288,295,302,309,316,323,330,337,344,351,358,365,372,379,386], "labelAngle": 270, "labelOverlap": false, "grid": false, "ticks": false, "domain": false, "labelFont": "Liberation Sans", "labelFontSize": 12, "labelColor": "#595959", "labelPadding": 6, "titleFont": "Inter", "titleFontSize": 13, "titleFontWeight": "normal", "titleColor": "#595959", "titlePadding": 10}},
                "x2": {"datum": 413.96},
                "y": {"datum": 408.7, "type": "quantitative",
                  "axis": {"title": "INDEX LEVEL", "values": [40,60,80,100,120,140,160,180,200,220,240,260,280,300,320,340,360,380], "labelOverlap": false, "grid": false, "ticks": false, "domain": false, "labelFont": "Liberation Sans", "labelFontSize": 12, "labelColor": "#595959", "labelPadding": 13, "titleFont": "Liberation Sans", "titleFontSize": 12, "titleFontWeight": "normal", "titleColor": "#595959", "titlePadding": 6}},
                "y2": {"datum": -38.07}
              }
            },
            {
              "data": {"name": "poles"},
              "mark": {"type": "rule", "strokeWidth": 1},
              "encoding": {
                "x": {"field": "week", "type": "quantitative",
                  "axis": {"title": "WEEKS", "values": [1,8,15,22,29,36,43,50,57,64,71,78,85,92,99,106,113,120,127,134,141,148,155,162,169,176,183,190,197,204,211,218,225,232,239,246,253,260,267,274,281,288,295,302,309,316,323,330,337,344,351,358,365,372,379,386], "labelAngle": 270, "labelOverlap": false, "grid": false, "ticks": false, "domain": false, "labelFont": "Liberation Sans", "labelFontSize": 12, "labelColor": "#595959", "labelPadding": 6, "titleFont": "Inter", "titleFontSize": 13, "titleFontWeight": "normal", "titleColor": "#595959", "titlePadding": 10}},
                "color": {"field": "series", "type": "nominal",
                  "scale": {"domain": ["Storypole","80-83","83-86","86-93","93-99","99-03","2004-2011","2015-2020","2022-Current","Mean Rate","Linear (80-83)","Linear (99-03)","Linear (2022-Current)"],
                            "range": ["#1E4D1E","#1A6BB8","#1A6BB8","#1A6BB8","#1A6BB8","#000000","#000000","#000000","#84C441","#C00000","#1F4E79","#8E3C96","#9C4A1A"]}}
              }
            },
            {
              "data": {"name": "series"},
              "mark": {"type": "line", "strokeWidth": 1.8, "strokeJoin": "round"},
              "encoding": {
                "x": {"field": "week", "type": "quantitative",
                  "scale": {"domain": [0.5, 391.5], "nice": false, "zero": false},
                  "axis": {"title": "WEEKS", "values": [1,8,15,22,29,36,43,50,57,64,71,78,85,92,99,106,113,120,127,134,141,148,155,162,169,176,183,190,197,204,211,218,225,232,239,246,253,260,267,274,281,288,295,302,309,316,323,330,337,344,351,358,365,372,379,386], "labelAngle": 270, "labelOverlap": false, "grid": false, "ticks": false, "domain": false, "labelFont": "Liberation Sans", "labelFontSize": 12, "labelColor": "#595959", "labelPadding": 6, "titleFont": "Inter", "titleFontSize": 13, "titleFontWeight": "normal", "titleColor": "#595959", "titlePadding": 10}},
                "y": {"field": "value", "type": "quantitative",
                  "scale": {"domain": [40, 380], "nice": false, "zero": false},
                  "axis": {"title": "INDEX LEVEL", "values": [40,60,80,100,120,140,160,180,200,220,240,260,280,300,320,340,360,380], "labelOverlap": false, "grid": false, "ticks": false, "domain": false, "labelFont": "Liberation Sans", "labelFontSize": 12, "labelColor": "#595959", "labelPadding": 13, "titleFont": "Liberation Sans", "titleFontSize": 12, "titleFontWeight": "normal", "titleColor": "#595959", "titlePadding": 6}},
                "color": {"field": "series", "type": "nominal",
                  "scale": {"domain": ["Storypole","80-83","83-86","86-93","93-99","99-03","2004-2011","2015-2020","2022-Current","Mean Rate","Linear (80-83)","Linear (99-03)","Linear (2022-Current)"],
                            "range": ["#1E4D1E","#1A6BB8","#1A6BB8","#1A6BB8","#1A6BB8","#000000","#000000","#000000","#84C441","#C00000","#1F4E79","#8E3C96","#9C4A1A"]},
                  "legend": {"orient": "none", "legendX": 136, "legendY": 750.6, "direction": "horizontal", "columns": 5, "title": null,
                    "symbolType": "M-2,0H2", "symbolSize": 361, "symbolStrokeWidth": 1.8,
                    "labelFont": "Inter", "labelFontSize": 11.5, "labelColor": "#595959", "labelOffset": 12.5,
                    "gridAlign": "all", "columnPadding": -3, "rowPadding": 8.2, "labelLimit": 300,
                    "encode": {"symbols": {"update": {
                      "shape": {"signal": "datum.value === 'Storypole' ? 'M-2,-0.27H2V0.27H-2Z' : datum.value === 'Mean Rate' ? 'M-2,-0.116H2V0.116H-2Z' : 'M-2,0H2'"},
                      "fill": {"signal": "datum.value === 'Storypole' ? '#1E4D1E' : datum.value === 'Mean Rate' ? '#C00000' : 'transparent'"},
                      "strokeWidth": {"value": 1.8}}}}}},
                "strokeDash": {"field": "series", "type": "nominal",
                  "scale": {"domain": ["Storypole","80-83","83-86","86-93","93-99","99-03","2004-2011","2015-2020","2022-Current","Mean Rate","Linear (80-83)","Linear (99-03)","Linear (2022-Current)"],
                            "range": [[1,0],[1,0],[2,2],[6,4],[8,3,2,3],[12,5,3,5],[9,5],[2,2],[1,0],[1,0],[1.4,2.2],[1.4,2.2],[1.4,2.2]]}}
              }
            },
            {
              "data": {"values": [{}]},
              "mark": {"type": "text", "text": "The Memo", "font": "Liberation Serif", "fontSize": 22, "fontStyle": "italic", "fontWeight": "bold", "align": "left", "baseline": "alphabetic", "color": "#000000"},
              "encoding": {
                "x": {"datum": 0.5, "type": "quantitative",
                  "axis": {"title": "WEEKS", "values": [1,8,15,22,29,36,43,50,57,64,71,78,85,92,99,106,113,120,127,134,141,148,155,162,169,176,183,190,197,204,211,218,225,232,239,246,253,260,267,274,281,288,295,302,309,316,323,330,337,344,351,358,365,372,379,386], "labelAngle": 270, "labelOverlap": false, "grid": false, "ticks": false, "domain": false, "labelFont": "Liberation Sans", "labelFontSize": 12, "labelColor": "#595959", "labelPadding": 6, "titleFont": "Inter", "titleFontSize": 13, "titleFontWeight": "normal", "titleColor": "#595959", "titlePadding": 10}},
                "y": {"datum": 8.8, "type": "quantitative",
                  "axis": {"title": "INDEX LEVEL", "values": [40,60,80,100,120,140,160,180,200,220,240,260,280,300,320,340,360,380], "labelOverlap": false, "grid": false, "ticks": false, "domain": false, "labelFont": "Liberation Sans", "labelFontSize": 12, "labelColor": "#595959", "labelPadding": 13, "titleFont": "Liberation Sans", "titleFontSize": 12, "titleFontWeight": "normal", "titleColor": "#595959", "titlePadding": 6}}
              }
            },
            {
              "data": {"values": [{}]},
              "mark": {"type": "text", "text": ".net", "font": "Liberation Serif", "fontSize": 8, "fontStyle": "italic", "fontWeight": "bold", "align": "left", "baseline": "alphabetic", "color": "#000000"},
              "encoding": {
                "x": {"datum": 37.9, "type": "quantitative",
                  "axis": {"title": "WEEKS", "values": [1,8,15,22,29,36,43,50,57,64,71,78,85,92,99,106,113,120,127,134,141,148,155,162,169,176,183,190,197,204,211,218,225,232,239,246,253,260,267,274,281,288,295,302,309,316,323,330,337,344,351,358,365,372,379,386], "labelAngle": 270, "labelOverlap": false, "grid": false, "ticks": false, "domain": false, "labelFont": "Liberation Sans", "labelFontSize": 12, "labelColor": "#595959", "labelPadding": 6, "titleFont": "Inter", "titleFontSize": 13, "titleFontWeight": "normal", "titleColor": "#595959", "titlePadding": 10}},
                "y": {"datum": 8.8, "type": "quantitative",
                  "axis": {"title": "INDEX LEVEL", "values": [40,60,80,100,120,140,160,180,200,220,240,260,280,300,320,340,360,380], "labelOverlap": false, "grid": false, "ticks": false, "domain": false, "labelFont": "Liberation Sans", "labelFontSize": 12, "labelColor": "#595959", "labelPadding": 13, "titleFont": "Liberation Sans", "titleFontSize": 12, "titleFontWeight": "normal", "titleColor": "#595959", "titlePadding": 6}}
              }
            },
            {
              "data": {"values": [{}]},
              "mark": {"type": "rule", "strokeWidth": 1.5, "color": "#000000"},
              "encoding": {
                "x": {"datum": 0.5, "type": "quantitative",
                  "axis": {"title": "WEEKS", "values": [1,8,15,22,29,36,43,50,57,64,71,78,85,92,99,106,113,120,127,134,141,148,155,162,169,176,183,190,197,204,211,218,225,232,239,246,253,260,267,274,281,288,295,302,309,316,323,330,337,344,351,358,365,372,379,386], "labelAngle": 270, "labelOverlap": false, "grid": false, "ticks": false, "domain": false, "labelFont": "Liberation Sans", "labelFontSize": 12, "labelColor": "#595959", "labelPadding": 6, "titleFont": "Inter", "titleFontSize": 13, "titleFontWeight": "normal", "titleColor": "#595959", "titlePadding": 10}},
                "x2": {"datum": 37.6},
                "y": {"datum": 6.8, "type": "quantitative",
                  "axis": {"title": "INDEX LEVEL", "values": [40,60,80,100,120,140,160,180,200,220,240,260,280,300,320,340,360,380], "labelOverlap": false, "grid": false, "ticks": false, "domain": false, "labelFont": "Liberation Sans", "labelFontSize": 12, "labelColor": "#595959", "labelPadding": 13, "titleFont": "Liberation Sans", "titleFontSize": 12, "titleFontWeight": "normal", "titleColor": "#595959", "titlePadding": 6}}
              }
            },
            {
              "data": {"values": [{}]},
              "mark": {"type": "text", "text": ["Source: Investing.com", "Analysis by Ulysses Awsumb"], "font": "Inter", "fontSize": 13, "align": "right", "baseline": "top", "lineHeight": 18, "color": "#000000"},
              "encoding": {
                "x": {"datum": 392.2, "type": "quantitative",
                  "axis": {"title": "WEEKS", "values": [1,8,15,22,29,36,43,50,57,64,71,78,85,92,99,106,113,120,127,134,141,148,155,162,169,176,183,190,197,204,211,218,225,232,239,246,253,260,267,274,281,288,295,302,309,316,323,330,337,344,351,358,365,372,379,386], "labelAngle": 270, "labelOverlap": false, "grid": false, "ticks": false, "domain": false, "labelFont": "Liberation Sans", "labelFontSize": 12, "labelColor": "#595959", "labelPadding": 6, "titleFont": "Inter", "titleFontSize": 13, "titleFontWeight": "normal", "titleColor": "#595959", "titlePadding": 10}},
                "y": {"datum": 9.3, "type": "quantitative",
                  "axis": {"title": "INDEX LEVEL", "values": [40,60,80,100,120,140,160,180,200,220,240,260,280,300,320,340,360,380], "labelOverlap": false, "grid": false, "ticks": false, "domain": false, "labelFont": "Liberation Sans", "labelFontSize": 12, "labelColor": "#595959", "labelPadding": 13, "titleFont": "Liberation Sans", "titleFontSize": 12, "titleFontWeight": "normal", "titleColor": "#595959", "titlePadding": 6}}
              }
            }
          ]
        },
        {
          "data": {"name": "rate"},
          "mark": {"type": "line", "strokeWidth": 3.2, "strokeJoin": "round"},
          "encoding": {
            "x": {"field": "week", "type": "quantitative",
              "axis": {"title": "WEEKS", "values": [1,8,15,22,29,36,43,50,57,64,71,78,85,92,99,106,113,120,127,134,141,148,155,162,169,176,183,190,197,204,211,218,225,232,239,246,253,260,267,274,281,288,295,302,309,316,323,330,337,344,351,358,365,372,379,386], "labelAngle": 270, "labelOverlap": false, "grid": false, "ticks": false, "domain": false, "labelFont": "Liberation Sans", "labelFontSize": 12, "labelColor": "#595959", "labelPadding": 6, "titleFont": "Inter", "titleFontSize": 13, "titleFontWeight": "normal", "titleColor": "#595959", "titlePadding": 10}},
            "y": {"field": "rate", "type": "quantitative",
              "scale": {"domain": [0, 8], "nice": false},
              "axis": {"orient": "right", "title": "Federal Funds Rate %", "values": [0,1,2,3,4,5,6,7,8],
                "labelOverlap": false, "grid": false, "ticks": false, "domain": false,
                "labelFont": "Liberation Sans", "labelFontSize": 12, "labelColor": "#C00000", "labelPadding": 14,
                "titleFont": "Liberation Sans", "titleFontSize": 12, "titleFontWeight": "normal", "titleColor": "#C00000", "titleAngle": 270, "titleBaseline": "top", "titlePadding": 8}},
            "color": {"field": "series", "type": "nominal",
              "scale": {"domain": ["Storypole","80-83","83-86","86-93","93-99","99-03","2004-2011","2015-2020","2022-Current","Mean Rate","Linear (80-83)","Linear (99-03)","Linear (2022-Current)"],
                        "range": ["#1E4D1E","#1A6BB8","#1A6BB8","#1A6BB8","#1A6BB8","#000000","#000000","#000000","#84C441","#C00000","#1F4E79","#8E3C96","#9C4A1A"]}}
          }
        }
      ]
    },
    {
      "data": {"name": "quote"},
      "width": 6,
      "height": 150,
      "view": {"stroke": null},
      "mark": {"type": "text", "align": "left", "dx": -38, "font": "Liberation Serif", "fontSize": 35, "color": "#363737"},
      "encoding": {
        "y": {"field": "n", "type": "ordinal",
          "axis": {"domain": true, "domainColor": "#2b2b2b", "domainWidth": 6, "offset": 73, "labels": false, "ticks": false, "title": null, "grid": false}},
        "text": {"field": "line"}
      }
    }
  ]
}
